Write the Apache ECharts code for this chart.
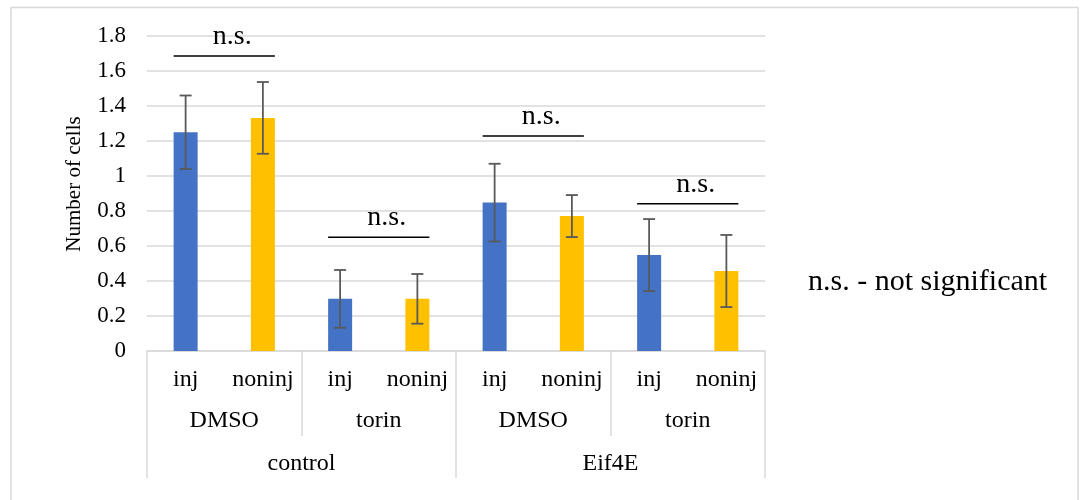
<!DOCTYPE html>
<html>
<head>
<meta charset="utf-8">
<title>Number of cells</title>
<script src="https://cdn.jsdelivr.net/npm/echarts@6/dist/echarts.min.js"></script>
<style>
  html, body { margin: 0; padding: 0; background: #ffffff; }
  #chart { width: 1082px; height: 500px; }
</style>
</head>
<body>
<div id="chart"></div>
<script>
// Three-level category axis: group > treatment > condition
const groups = ['control', 'Eif4E'];
const treatments = ['DMSO', 'torin', 'DMSO', 'torin'];
const conditions = ['inj', 'noninj', 'inj', 'noninj', 'inj', 'noninj', 'inj', 'noninj'];

// Mean number of cells and error-bar half widths, one per condition
const meanCells = [1.25, 1.332, 0.298, 0.298, 0.848, 0.771, 0.548, 0.457];
const errCells = [0.21, 0.205, 0.165, 0.142, 0.222, 0.12, 0.206, 0.206];

// Y axis tick labels (0 to 1.8, step 0.2)
const yTickLabels = ['0', '0.2', '0.4', '0.6', '0.8', '1', '1.2', '1.4', '1.6', '1.8'];

// Significance brackets: pair of bars, bracket height on the y scale, label
const sigPairs = [[0, 1], [2, 3], [4, 5], [6, 7]];
const sigLevels = [1.686, 0.65, 1.229, 0.842];
const sigLabels = ['n.s.', 'n.s.', 'n.s.', 'n.s.'];

const legendNote = 'n.s. - not significant';
const yTitle = 'Number of cells';

const FONT = "'Liberation Serif', 'Times New Roman', serif";
const GRID_COLOR = '#d9d9d9';
const BAR_W = 24;
const conditionColors = { inj: '#4472c4', noninj: '#ffc000' };

const chart = echarts.init(document.getElementById('chart'), null, { renderer: 'canvas' });

const errorData = meanCells.map((m, i) => [i, m - errCells[i], m + errCells[i]]);
const sigData = sigPairs.map((p, i) => [p[0], p[1], sigLevels[i], sigLabels[i]]);

const catLabel = (margin) => ({
  interval: 0,
  margin: margin,
  fontSize: 24,
  color: '#000',
  fontFamily: FONT
});

const option = {
  backgroundColor: '#ffffff',
  animation: false,
  grid: { left: 147, right: 317, top: 36, bottom: 149, containLabel: false },
  xAxis: [
    {
      type: 'category',
      data: conditions,
      position: 'bottom',
      axisLine: { show: true, lineStyle: { color: GRID_COLOR, width: 1.5 } },
      axisTick: { show: false },
      axisLabel: catLabel(17)
    },
    {
      type: 'category',
      data: treatments,
      position: 'bottom',
      axisLine: { show: false },
      axisTick: { show: true, interval: 0, length: 85, lineStyle: { color: GRID_COLOR, width: 1.5 } },
      axisLabel: catLabel(58)
    },
    {
      type: 'category',
      data: groups,
      position: 'bottom',
      axisLine: { show: false },
      axisTick: { show: true, interval: 0, length: 127, lineStyle: { color: GRID_COLOR, width: 1.5 } },
      axisLabel: catLabel(101)
    }
  ],
  yAxis: {
    type: 'value',
    min: 0,
    max: 1.8,
    interval: 0.2,
    axisLine: { show: false },
    axisTick: { show: false },
    splitLine: { show: true, lineStyle: { color: GRID_COLOR, width: 1.5 } },
    axisLabel: {
      margin: 21,
      fontSize: 23,
      color: '#000',
      fontFamily: FONT,
      formatter: (v) => yTickLabels[Math.round(v / 0.2)]
    }
  },
  graphic: [
    {
      type: 'rect',
      silent: true,
      shape: { x: 11, y: 7.5, width: 1067, height: 520 },
      style: { fill: 'none', stroke: GRID_COLOR, lineWidth: 1.5 }
    },
    {
      type: 'text',
      silent: true,
      x: 74,
      y: 184,
      rotation: Math.PI / 2,
      style: {
        text: yTitle,
        font: '21px ' + FONT,
        fill: '#000',
        align: 'center',
        verticalAlign: 'middle'
      }
    },
    {
      type: 'text',
      silent: true,
      x: 808,
      y: 282,
      style: {
        text: legendNote,
        font: '30px ' + FONT,
        fill: '#000',
        align: 'left',
        verticalAlign: 'middle'
      }
    }
  ],
  series: [
    {
      name: 'cells',
      type: 'bar',
      xAxisIndex: 0,
      barWidth: BAR_W,
      data: meanCells,
      itemStyle: {
        color: (p) => conditionColors[conditions[p.dataIndex]]
      },
      z: 2
    },
    {
      name: 'error',
      type: 'custom',
      xAxisIndex: 0,
      data: errorData,
      encode: { x: 0, y: [1, 2] },
      z: 3,
      renderItem: (params, api) => {
        const idx = api.value(0);
        const lo = api.coord([idx, api.value(1)]);
        const hi = api.coord([idx, api.value(2)]);
        const cap = 6;
        const st = { stroke: '#595959', lineWidth: 1.8 };
        return {
          type: 'group',
          children: [
            { type: 'line', shape: { x1: hi[0], y1: hi[1], x2: lo[0], y2: lo[1] }, style: st },
            { type: 'line', shape: { x1: hi[0] - cap, y1: hi[1], x2: hi[0] + cap, y2: hi[1] }, style: st },
            { type: 'line', shape: { x1: lo[0] - cap, y1: lo[1], x2: lo[0] + cap, y2: lo[1] }, style: st }
          ]
        };
      }
    },
    {
      name: 'significance',
      type: 'custom',
      xAxisIndex: 0,
      data: sigData,
      encode: { x: [0, 1], y: 2 },
      z: 4,
      clip: false,
      renderItem: (params, api) => {
        const a = api.coord([api.value(0), api.value(2)]);
        const b = api.coord([api.value(1), api.value(2)]);
        const x1 = a[0] - BAR_W / 2;
        const x2 = b[0] + BAR_W / 2;
        const y = a[1];
        return {
          type: 'group',
          children: [
            {
              type: 'line',
              shape: { x1: x1, y1: y, x2: x2, y2: y },
              style: { stroke: '#000', lineWidth: 1.5 }
            },
            {
              type: 'text',
              x: (x1 + x2) / 2 + 8,
              y: y - 19.5,
              style: {
                text: sigLabels[params.dataIndex],
                font: '28px ' + FONT,
                fill: '#000',
                align: 'center',
                verticalAlign: 'middle'
              }
            }
          ]
        };
      }
    }
  ]
};

chart.setOption(option);
</script>
</body>
</html>
